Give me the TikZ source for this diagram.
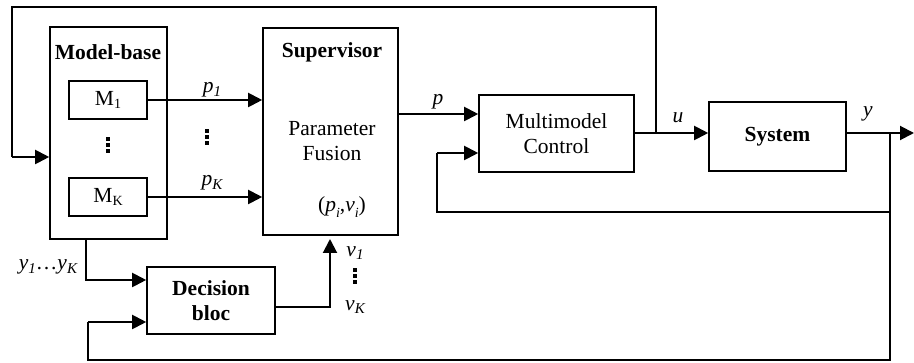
\documentclass[tikz,border=0pt]{standalone}
\usepackage{fontspec}
\setmainfont{Liberation Serif}
\usetikzlibrary{arrows.meta}
\newcommand{\sbi}[1]{\raisebox{-0.35ex}{\fontsize{15}{15}\selectfont\itshape #1}}
\newcommand{\sbr}[1]{\raisebox{-0.3ex}{\fontsize{14}{14}\selectfont #1}}
\newcommand{\sbl}[1]{\raisebox{-0.6ex}{\fontsize{14}{14}\selectfont\itshape #1}}
\begin{document}
\begin{tikzpicture}[x=1pt,y=-1pt,
  font=\fontsize{21.5}{25}\selectfont,
  box/.style={draw,line width=1.6pt,inner sep=0pt,align=center},
  arr/.style={line width=2pt,-{Triangle[length=14pt,width=14pt]}},
  fb/.style={line width=1.6pt},
  lbl/.style={inner sep=0pt,align=center},
  vd/.pic={\foreach \dy in {-6,0,6} \fill (-1.6,\dy-1.6) rectangle (1.6,\dy+1.6);}]
\useasboundingbox (0,0) rectangle (914,363);
% blocks
\node[box,minimum width=117pt,minimum height=212pt] (mb) at (108.5,133) {};
\node[lbl,font=\fontsize{21.5}{25}\selectfont\bfseries] (mbl) at (108,52) {Model-base};
\node[box,minimum width=78pt,minimum height=38pt] (m1) at (108,100) {M\sbr{1}};
\pic at (108,145) {vd};
\node[box,minimum width=78pt,minimum height=38pt] (mk) at (108,197) {M\sbr{K}};
\node[box,minimum width=135pt,minimum height=207pt] (sup) at (330.5,131.5) {};
\node[lbl,font=\fontsize{21.5}{25}\selectfont\bfseries] (supl) at (332,52) {Supervisor};
\node[lbl] (pf) at (332,141) {Parameter\\Fusion};
\node[lbl] (pv) at (342,207) {(\textit{p}\sbl{i},\textit{v}\sbl{i})};
\node[box,minimum width=155pt,minimum height=77pt] (mc) at (556.5,133.5) {Multimodel\\Control};
\node[box,minimum width=137pt,minimum height=69pt,font=\fontsize{21.5}{25}\selectfont\bfseries] (sys) at (777.5,136.5) {System};
\node[box,minimum width=128pt,minimum height=67pt,font=\fontsize{21.5}{25}\selectfont\bfseries] (dec) at (211,300.5) {Decision\\bloc};
% coordinates
\coordinate (py) at (0,114);
\coordinate (uy) at (0,133);
\coordinate (fy) at (0,153);
\coordinate (out) at (914,133);
\coordinate (j) at (890,133);
\coordinate (jb) at (890,360);
\coordinate (jm) at (890,212);
\coordinate (tr) at (656,133);
% connectors
\draw[arr] (m1.east) -- (m1.east -| sup.west);
\draw[arr] (mk.east) -- (mk.east -| sup.west);
\draw[arr] (sup.east |- py) -- (mc.west |- py);
\draw[arr] (mc.east |- uy) -- (sys.west |- uy);
\draw[arr] (sys.east |- uy) -- (out);
\draw[fb] (j) -- (jb) -- (88,360) -- (88,322);
\draw[arr] (88,322) -- (dec.west |- 0,322);
\draw[fb] (jm) -- (437,212) -- (437,153);
\draw[arr] (437,153) -- (mc.west |- fy);
\draw[fb] (tr) -- (656,7) -- (12,7) -- (12,157);
\draw[arr] (12,157) -- (mb.west |- 0,157);
\draw[arr] (mb.south -| 86,0) -- (86,280) -- (dec.west |- 0,280);
\draw[arr] (dec.east |- 0,307) -- (330,307) -- (330,239);
% labels
\node[lbl] (lp1) at (212,90) {\textit{p}\sbi{1}};
\pic at (207,137) {vd};
\node[lbl] (lpk) at (212,183) {\textit{p}\sbi{K}};
\node[lbl] (lp) at (438,102) {\textit{p}};
\node[lbl] (lu) at (678,118) {\textit{u}};
\node[lbl] (ly) at (868,114) {\textit{y}};
\node[lbl] (lyk) at (48,267) {\textit{y}\sbi{1}…\textit{y}\sbi{K}};
\node[lbl] (lv1) at (355,253) {\textit{v}\sbi{1}};
\pic at (355,276) {vd};
\node[lbl] (lvk) at (355,307) {\textit{v}\sbi{K}};
\end{tikzpicture}
\end{document}
